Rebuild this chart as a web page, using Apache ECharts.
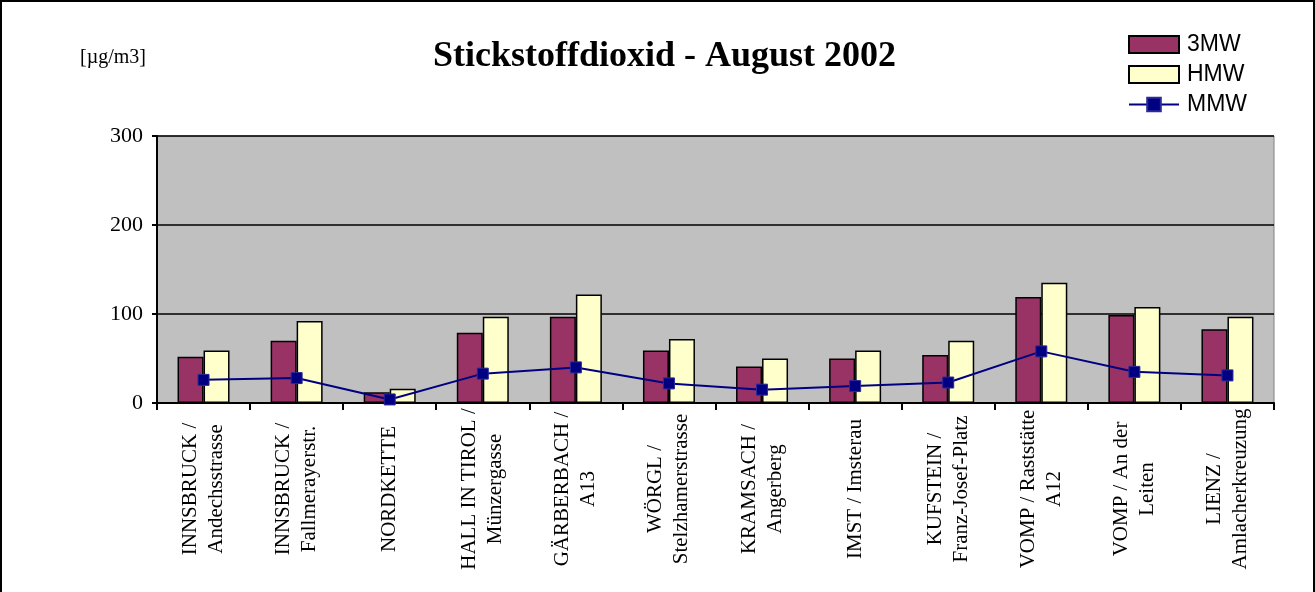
<!DOCTYPE html>
<html>
<head>
<meta charset="utf-8">
<script src="https://cdn.jsdelivr.net/npm/echarts@6/dist/echarts.min.js"></script>
<style>
  html, body { margin: 0; padding: 0; background: #fff; overflow: hidden; }
  #main { position: absolute; left: 0; top: 0; width: 1315px; height: 592px; }
  #frame { position: absolute; left: 0; top: 0; width: 1311px; height: 620px; border: 2px solid #000; pointer-events: none; }
</style>
</head>
<body>
<div id="main"></div>
<div id="frame"></div>
<script>
const stations = [
  'INNSBRUCK /\nAndechsstrasse',
  'INNSBRUCK /\nFallmerayerstr.',
  'NORDKETTE',
  'HALL IN TIROL /\nMünzergasse',
  'GÄRBERBACH /\nA13',
  'WÖRGL /\nStelzhamerstrasse',
  'KRAMSACH /\nAngerberg',
  'IMST / Imsterau',
  'KUFSTEIN /\nFranz-Josef-Platz',
  'VOMP / Raststätte\nA12',
  'VOMP / An der\nLeiten',
  'LIENZ /\nAmlacherkreuzung'
];
const mw3 = [52, 70, 12, 79, 97, 59, 41, 50, 54, 119, 99, 83];
const hmw = [59, 92, 16, 97, 122, 72, 50, 59, 70, 135, 108, 97];
const mmw = [26, 28, 4, 33, 40, 22, 15, 19, 23, 58, 35, 31];

const serif = '"Liberation Serif", "Times New Roman", serif';
const sans = '"Liberation Sans", Arial, sans-serif';

const chart = echarts.init(document.getElementById('main'));

chart.setOption({
  animation: false,
  backgroundColor: '#fff',
  title: [
    {
      text: 'Stickstoffdioxid - August 2002',
      left: 433,
      top: 39,
      padding: 0,
      textStyle: { fontFamily: serif, fontSize: 36, fontWeight: 'bold', color: '#000' }
    },
    {
      text: '[µg/m3]',
      left: 80,
      top: 48,
      padding: 0,
      textStyle: { fontFamily: serif, fontSize: 20, fontWeight: 'normal', color: '#000' }
    }
  ],
  legend: {
    orient: 'vertical',
    left: 1128,
    top: 33,
    padding: 0,
    itemWidth: 50,
    itemHeight: 17,
    itemGap: 7,
    textStyle: { fontFamily: sans, fontSize: 23, color: '#000', padding: [0, 0, 0, 3] },
    data: [
      { name: '3MW', icon: 'rect' },
      { name: 'HMW', icon: 'rect' },
      { name: 'MMW' }
    ]
  },
  grid: {
    left: 157,
    right: 41,
    top: 136,
    bottom: 189,
    show: true,
    backgroundColor: '#C0C0C0',
    borderColor: '#808080',
    borderWidth: 1
  },
  xAxis: {
    type: 'category',
    data: stations,
    axisLine: { lineStyle: { color: '#000', width: 2 } },
    axisTick: { show: true, length: 7, lineStyle: { color: '#000', width: 2 } },
    axisLabel: {
      rotate: 90,
      interval: 0,
      margin: 86,
      align: 'center',
      verticalAlign: 'middle',
      fontFamily: serif,
      fontSize: 21,
      lineHeight: 26,
      color: '#000'
    }
  },
  yAxis: {
    type: 'value',
    min: 0,
    max: 300,
    interval: 100,
    axisLine: { show: true, lineStyle: { color: '#000', width: 2 } },
    axisTick: { show: true, length: 5, lineStyle: { color: '#000', width: 2 } },
    axisLabel: { fontFamily: serif, fontSize: 22, color: '#000', margin: 14 },
    splitLine: { lineStyle: { color: '#000', width: 1.5 } }
  },
  series: [
    {
      name: '3MW',
      type: 'bar',
      data: mw3,
      barWidth: 26,
      barGap: '0%',
      itemStyle: { color: '#993366', borderColor: '#000', borderWidth: 1.5 }
    },
    {
      name: 'HMW',
      type: 'bar',
      data: hmw,
      barWidth: 26,
      itemStyle: { color: '#FFFFCC', borderColor: '#000', borderWidth: 1.5 }
    },
    {
      name: 'MMW',
      type: 'line',
      data: mmw,
      symbol: 'rect',
      symbolSize: 11,
      z: 5,
      lineStyle: { color: '#000080', width: 2 },
      itemStyle: { color: '#000080', borderColor: '#2a2a9a', borderWidth: 1 }
    }
  ]
});
</script>
</body>
</html>
